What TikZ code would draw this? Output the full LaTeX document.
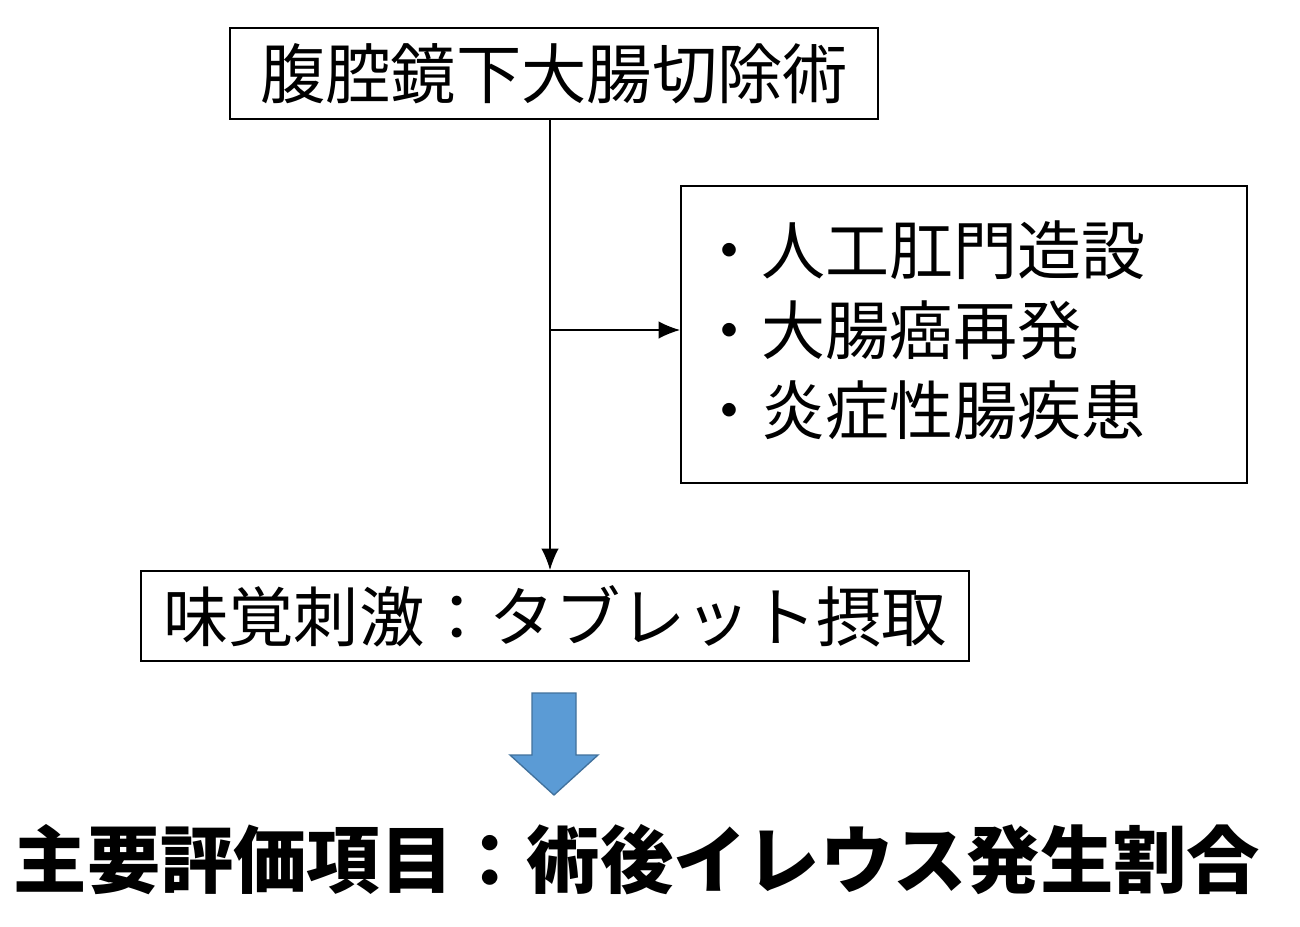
\documentclass[tikz,border=0pt]{standalone}
\usepackage{fontspec}
\usetikzlibrary{arrows.meta}
\newfontfamily\cjk{Noto Sans CJK JP}
\begin{document}
\begin{tikzpicture}[x=0.75pt,y=-0.75pt,
  box/.style={draw,line width=1.6pt,inner sep=0pt,anchor=north west,font=\cjk\fontsize{49}{58}\selectfont},
  conn/.style={line width=0.9pt}]
\useasboundingbox (0,0) rectangle (1300,926);
\node[box,minimum width=648*0.75pt,minimum height=91*0.75pt] (b1) at (229,27) {腹腔鏡下大腸切除術};
\node[box,minimum width=566*0.75pt,minimum height=297*0.75pt] (b2) at (680,185) {};
\node[font=\cjk\fontsize{48}{58}\selectfont,anchor=west] (t1) at (693,250) {・人工肛門造設};
\node[font=\cjk\fontsize{48}{58}\selectfont,anchor=west] (t2) at (693,330) {・大腸癌再発};
\node[font=\cjk\fontsize{48}{58}\selectfont,anchor=west] (t3) at (693,410) {・炎症性腸疾患};
\node[box,minimum width=828*0.75pt,minimum height=90*0.75pt] (b3) at (140,570) {味覚刺激：タブレット摂取};
\coordinate (top) at (550,118);
\coordinate (br) at (550,330);
\coordinate (bot) at (550,570);
\draw[conn,-{Latex[length=16pt,width=13pt]}] (top) -- (bot);
\draw[conn,-{Latex[length=16pt,width=13pt]}] (br) -- (b2.west |- br);
\draw[fill={rgb,255:red,91;green,155;blue,213},draw={rgb,255:red,65;green,113;blue,156},line width=1pt]
  (532,693) -- (576,693) -- (576,755) -- (598,755) -- (554,795) -- (510,755) -- (532,755) -- cycle;
\node[font=\cjk\bfseries\fontsize{55}{66}\selectfont] (res) at (637,860) {主要評価項目：術後イレウス発生割合};
\end{tikzpicture}
\end{document}
